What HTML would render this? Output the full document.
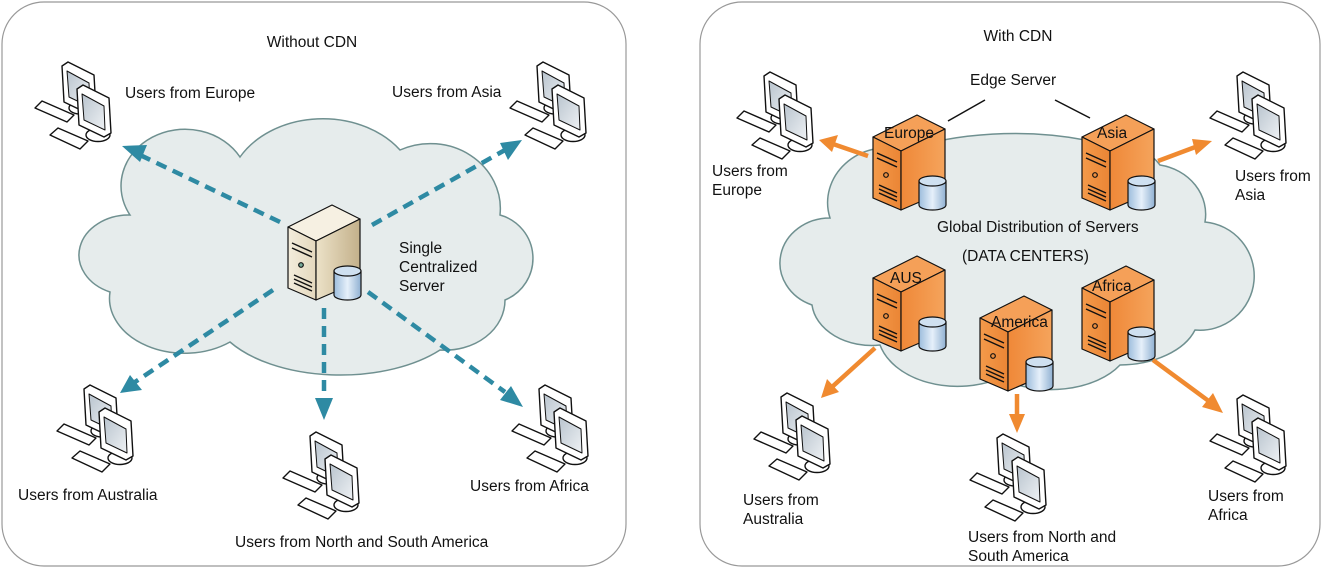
<!DOCTYPE html>
<html><head><meta charset="utf-8"><style>
html,body{margin:0;padding:0;background:#fff;}
svg{display:block;}
text{font-family:"Liberation Sans",Arial,sans-serif;font-size:15.5px;fill:#111;}
</style></head><body>
<svg width="1324" height="568" viewBox="0 0 1324 568" xmlns="http://www.w3.org/2000/svg">
<defs>
<linearGradient id="scr" x1="0" y1="0" x2="1" y2="1"><stop offset="0" stop-color="#b9c4ce"/><stop offset="1" stop-color="#eef1f4"/></linearGradient>
<linearGradient id="cyl" x1="0" y1="0" x2="1" y2="0"><stop offset="0" stop-color="#9cbcdc"/><stop offset="0.5" stop-color="#e6f0fa"/><stop offset="1" stop-color="#8fb0d2"/></linearGradient>
<linearGradient id="bf" x1="0" y1="0" x2="1" y2="0"><stop offset="0" stop-color="#f3ecdc"/><stop offset="1" stop-color="#e4d8bd"/></linearGradient>
<linearGradient id="bs" x1="0" y1="0" x2="1" y2="0"><stop offset="0" stop-color="#ece2c8"/><stop offset="1" stop-color="#c3b08a"/></linearGradient>
<linearGradient id="of" x1="0" y1="0" x2="1" y2="0"><stop offset="0" stop-color="#f49a4a"/><stop offset="1" stop-color="#ea8535"/></linearGradient>
<linearGradient id="os" x1="0" y1="0" x2="1" y2="0"><stop offset="0" stop-color="#ef8838"/><stop offset="1" stop-color="#f5a45c"/></linearGradient>
<g id="pc" stroke="#111" stroke-width="1.4" stroke-linejoin="round">
  <polygon points="5,48 12,41 44,55 37,62" fill="#fff"/>
  <polygon points="20,75 28,68 58,81 50,89" fill="#fff"/>
  <ellipse cx="50" cy="48" rx="11" ry="6" fill="#fff"/>
  <polygon points="32,6 38,2 64,15 66,50 59,54 34,42" fill="#fff"/>
  <polygon points="37,11 59,23 60,47 39,37" fill="url(#scr)" stroke-width="1"/>
  <ellipse cx="68" cy="75" rx="12" ry="6.5" fill="#fff"/>
  <polygon points="47,29 53,25 79,38 81,73 74,77 49,65" fill="#fff"/>
  <polygon points="52,34 74,46 75,70 54,60" fill="url(#scr)" stroke-width="1"/>
</g>
<g id="cylg" stroke="#111" stroke-width="1.2">
  <path d="M46,68 v24 a13.5,5 0 0 0 27,0 v-24" fill="url(#cyl)"/>
  <ellipse cx="59.5" cy="68" rx="13.5" ry="5" fill="#cfe0f0"/>
</g>
<g id="srvB" stroke="#111" stroke-width="1.2" stroke-linejoin="round">
  <polygon points="0,24 44,2 72,16 28,38" fill="#f6f0e2"/>
  <polygon points="0,24 28,38 28,97 0,85" fill="url(#bf)"/>
  <polygon points="28,38 72,16 72,78 28,97" fill="url(#bs)"/>
  <path d="M4,40 l20,9 M4,45 l20,9 M6,72 l18,8 M6,76 l18,8 M6,80 l18,8" stroke-width="1.5"/>
  <circle cx="13" cy="62" r="2.3" fill="#7a9"/>
  <use href="#cylg"/>
</g>
<g id="srvO" stroke="#111" stroke-width="1.2" stroke-linejoin="round">
  <polygon points="0,24 44,2 72,16 28,38" fill="#f5a058"/>
  <polygon points="0,24 28,38 28,97 0,85" fill="url(#of)"/>
  <polygon points="28,38 72,16 72,78 28,97" fill="url(#os)"/>
  <path d="M4,40 l20,9 M4,45 l20,9 M6,72 l18,8 M6,76 l18,8 M6,80 l18,8" stroke-width="1.5"/>
  <circle cx="13" cy="62" r="2.3" fill="none"/>
  <use href="#cylg"/>
</g>
</defs>

<rect x="2" y="2" width="624" height="564" rx="42" fill="#fff" stroke="#999" stroke-width="1.2"/>
<rect x="700" y="2" width="620" height="564" rx="42" fill="#fff" stroke="#999" stroke-width="1.2"/>

<path d="M130,215 A62,55 0 0 1 240,157 A95,75 0 0 1 400,150 A70,65 0 0 1 500,215 A45,45 0 0 1 505,300 A60,50 0 0 1 440,350 A130,70 0 0 1 230,342 A75,55 0 0 1 110,292 A50,40 0 0 1 130,215 Z" fill="#e6ecec" stroke="#6f9090" stroke-width="1.5"/>
<path d="M830,218 A60,55 0 0 1 905,150 A190,90 0 0 1 1085,140 A70,55 0 0 1 1160,165 A55,50 0 0 1 1205,222 A45,45 0 0 1 1195,330 A80,50 0 0 1 1120,365 A80,50 0 0 1 1000,378 A80,55 0 0 1 880,345 A60,45 0 0 1 812,305 A50,45 0 0 1 830,218 Z" fill="#e6ecec" stroke="#6f9090" stroke-width="1.5"/>

<g stroke="#2e8aa3" stroke-width="4.5" stroke-dasharray="11,7" fill="none">
  <line x1="280" y1="222" x2="140" y2="155"/>
  <line x1="372" y1="225" x2="505" y2="150"/>
  <line x1="273" y1="290" x2="135" y2="382"/>
  <line x1="324" y1="308" x2="324" y2="400"/>
  <line x1="368" y1="292" x2="505" y2="392"/>
</g>
<g fill="#2e8aa3">
  <polygon points="122,146 147,145 140,162"/>
  <polygon points="522,140 508,160 500,143"/>
  <polygon points="120,393 130,375 142,390"/>
  <polygon points="324,420 315,398 333,398"/>
  <polygon points="523,407 500,400 511,386"/>
</g>

<g stroke="#f08a30" stroke-width="4.5" fill="none">
  <line x1="868" y1="156" x2="833" y2="144"/>
  <line x1="1158" y1="161" x2="1198" y2="146"/>
  <line x1="875" y1="348" x2="832" y2="387"/>
  <line x1="1017" y1="394" x2="1017" y2="418"/>
  <line x1="1153" y1="360" x2="1210" y2="402"/>
</g>
<g fill="#f08a30">
  <polygon points="819,140 838,135 832,152"/>
  <polygon points="1212,141 1196,155 1192,139"/>
  <polygon points="821,398 827,379 839,392"/>
  <polygon points="1017,433 1009,414 1025,414"/>
  <polygon points="1223,413 1202,407 1213,393"/>
</g>
<line x1="948" y1="121" x2="985" y2="100" stroke="#111" stroke-width="1.5"/>
<line x1="1055" y1="100" x2="1090" y2="118" stroke="#111" stroke-width="1.5"/>

<use href="#srvB" x="288" y="203"/>
<use href="#srvO" x="873" y="113"/>
<use href="#srvO" x="1082" y="113"/>
<use href="#srvO" x="873" y="254"/>
<use href="#srvO" x="980" y="294"/>
<use href="#srvO" x="1082" y="264"/>

<use href="#pc" x="30" y="60"/>
<use href="#pc" x="505" y="60"/>
<use href="#pc" x="52" y="383"/>
<use href="#pc" x="278" y="430"/>
<use href="#pc" x="507" y="383"/>
<use href="#pc" x="732" y="70"/>
<use href="#pc" x="1205" y="70"/>
<use href="#pc" x="749" y="391"/>
<use href="#pc" x="965" y="432"/>
<use href="#pc" x="1205" y="393"/>

<text x="312" y="47" text-anchor="middle">Without CDN</text>
<text x="125" y="98">Users from Europe</text>
<text x="392" y="97">Users from Asia</text>
<text x="399" y="253">Single</text>
<text x="399" y="272">Centralized</text>
<text x="399" y="291">Server</text>
<text x="18" y="500">Users from Australia</text>
<text x="235" y="547">Users from North and South America</text>
<text x="470" y="491">Users from Africa</text>

<text x="1018" y="41" text-anchor="middle">With CDN</text>
<text x="970" y="85">Edge Server</text>
<text x="712" y="176">Users from</text>
<text x="712" y="195">Europe</text>
<text x="1235" y="181">Users from</text>
<text x="1235" y="200">Asia</text>
<text x="937" y="232">Global Distribution of Servers</text>
<text x="962" y="261">(DATA CENTERS)</text>
<text x="884" y="138">Europe</text>
<text x="1097" y="138">Asia</text>
<text x="890" y="283">AUS</text>
<text x="1092" y="291">Africa</text>
<text x="991" y="327">America</text>
<text x="743" y="505">Users from</text>
<text x="743" y="524">Australia</text>
<text x="968" y="542">Users from North and</text>
<text x="968" y="561">South America</text>
<text x="1208" y="501">Users from</text>
<text x="1208" y="520">Africa</text>
</svg>
</body></html>
